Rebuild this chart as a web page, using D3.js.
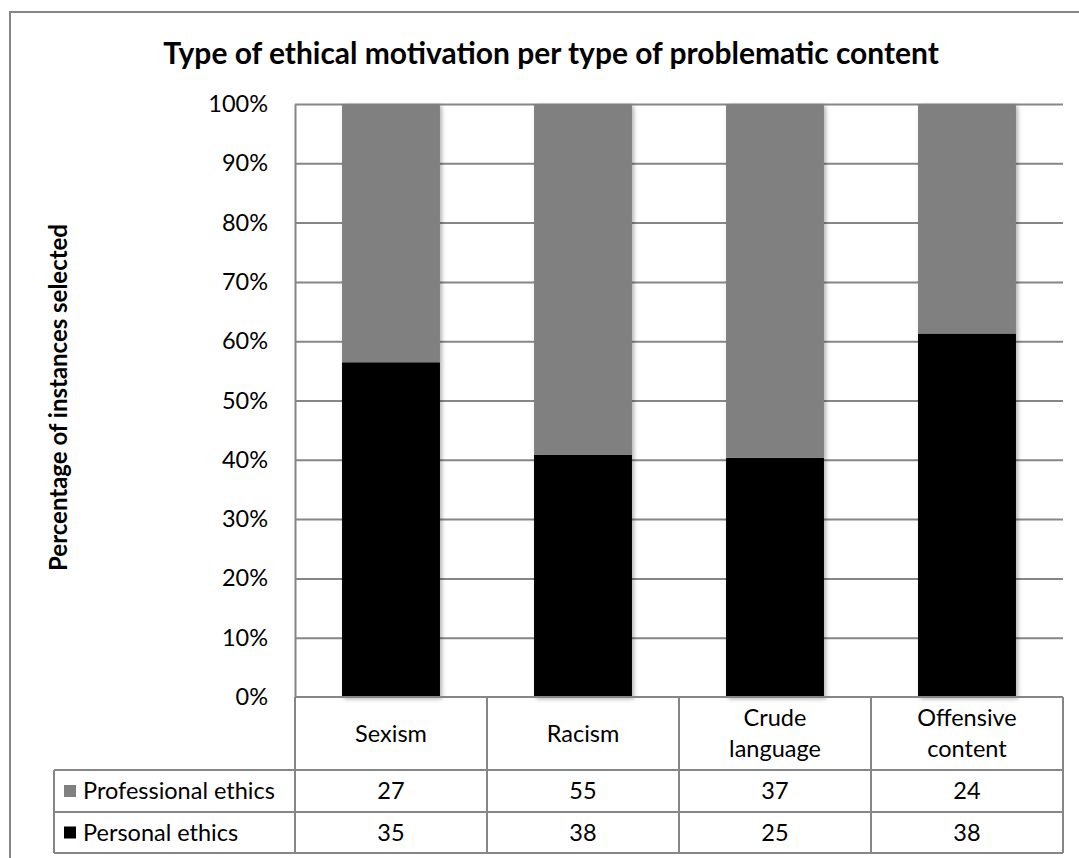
<!DOCTYPE html>
<html>
<head>
<meta charset="utf-8">
<script src="https://cdn.jsdelivr.net/npm/d3@7"></script>
<style>
  body { margin: 0; background: #fff; }
  text { fill: #000; }
</style>
</head>
<body>
<div id="chart"></div>
<script>
// data
const categories = ["Sexism", "Racism", "Crude language", "Offensive content"];
const categoryLines = [["Sexism"], ["Racism"], ["Crude", "language"], ["Offensive", "content"]];
const professional = [27, 55, 37, 24];
const personal = [35, 38, 25, 38];
const seriesNames = ["Professional ethics", "Personal ethics"];
const yTicks = [0, 0.1, 0.2, 0.3, 0.4, 0.5, 0.6, 0.7, 0.8, 0.9, 1];

const width = 1079, height = 858;
const plot = { left: 295, right: 1063, top: 104, bottom: 697 };
const gridColor = "#868686";
const font = "Lato, 'Open Sans', sans-serif";
const fontSize = 23.5;

const svg = d3.select("#chart").append("svg")
  .attr("width", width).attr("height", height)
  .attr("font-family", font);

const defs = svg.append("defs");
const shadow = defs.append("filter").attr("id", "shadow")
  .attr("x", "-10%").attr("y", "-10%").attr("width", "130%").attr("height", "130%");
shadow.append("feDropShadow").attr("dx", 2).attr("dy", 2)
  .attr("stdDeviation", 2).attr("flood-color", "#000").attr("flood-opacity", 0.3);

// chart area border
svg.append("rect")
  .attr("x", 10).attr("y", 12)
  .attr("width", width + 20).attr("height", height + 20)
  .attr("fill", "none").attr("stroke", gridColor).attr("stroke-width", 2);

// grow / shrink a text so it spans the width seen in the reference
function fitText(sel, base, target) {
  const w = sel.node().getComputedTextLength();
  sel.attr("font-size", base * target / w);
}

const title = svg.append("text")
  .attr("x", 551).attr("y", 64)
  .attr("text-anchor", "middle")
  .attr("font-weight", "bold")
  .attr("font-size", 24)
  .text("Type of ethical motivation per type of problematic content");
fitText(title, 24, 776);

const x = d3.scaleBand().domain(categories).range([plot.left, plot.right]).padding(0);
const y = d3.scaleLinear().domain([0, 1]).range([plot.bottom, plot.top]);
const barW = x.bandwidth() * 0.51;

// gridlines
svg.append("g")
  .attr("transform", `translate(${plot.left},0)`)
  .call(d3.axisLeft(y).tickValues(yTicks.slice(1)).tickSize(-(plot.right - plot.left)).tickFormat(""))
  .call(g => g.select(".domain").remove())
  .call(g => g.selectAll("line").attr("stroke", gridColor).attr("stroke-width", 2));

// y axis
svg.append("g")
  .attr("transform", `translate(${plot.left},0)`)
  .call(d3.axisLeft(y).tickValues(yTicks).tickFormat(d3.format(".0%")).tickSize(0).tickPadding(27))
  .call(g => g.attr("font-family", font).attr("font-size", fontSize))
  .call(g => g.select(".domain").attr("stroke", gridColor).attr("stroke-width", 2))
  .call(g => g.selectAll("text").attr("fill", "#000"));

// y axis title
const yTitle = svg.append("text")
  .attr("transform", `translate(67,${(plot.top + plot.bottom) / 2 - 3}) rotate(-90)`)
  .attr("text-anchor", "middle")
  .attr("font-weight", "bold")
  .attr("font-size", 18)
  .text("Percentage of instances selected");
fitText(yTitle, 18, 347);

// stacked 100% bars
const rows = categories.map((c, i) => ({ cat: c, personal: personal[i], professional: professional[i] }));
const stack = d3.stack().keys(["personal", "professional"]).offset(d3.stackOffsetExpand);
const layers = stack(rows);
const colors = { personal: "#000000", professional: "#808080" };

svg.append("g").selectAll("g")
  .data(layers)
  .join("g")
  .attr("fill", d => colors[d.key])
  .selectAll("rect")
  .data(d => d)
  .join("rect")
  .attr("filter", "url(#shadow)")
  .attr("x", d => x(d.data.cat) + (x.bandwidth() - barW) / 2)
  .attr("y", d => y(d[1]))
  .attr("width", barW)
  .attr("height", d => y(d[0]) - y(d[1]));

// data table
const rowY = [plot.bottom, 770, 812, 853];
const labelLeft = 54;
const table = svg.append("g").attr("stroke", gridColor).attr("stroke-width", 2);
categories.concat(["end"]).forEach((c, i) => {
  const xx = i < categories.length ? x(c) : plot.right;
  table.append("line").attr("x1", xx).attr("x2", xx).attr("y1", rowY[0]).attr("y2", rowY[3]);
});
table.append("line").attr("x1", labelLeft).attr("x2", labelLeft).attr("y1", rowY[1]).attr("y2", rowY[3]);
table.append("line").attr("x1", plot.left).attr("x2", plot.right).attr("y1", rowY[0]).attr("y2", rowY[0]);
[1, 2, 3].forEach(r => {
  table.append("line").attr("x1", labelLeft).attr("x2", plot.right).attr("y1", rowY[r]).attr("y2", rowY[r]);
});

// header labels
categories.forEach((c, i) => {
  const lines = categoryLines[i];
  const cx = x(c) + x.bandwidth() / 2;
  const cy = (rowY[0] + rowY[1]) / 2;
  const lh = 31;
  lines.forEach((ln, j) => {
    svg.append("text")
      .attr("x", cx)
      .attr("y", cy + (j - (lines.length - 1) / 2) * lh)
      .attr("dy", "0.35em")
      .attr("text-anchor", "middle")
      .attr("font-size", fontSize)
      .text(ln);
  });
});

// value rows
const tableSeries = [
  { name: seriesNames[0], values: professional, color: colors.professional },
  { name: seriesNames[1], values: personal, color: colors.personal }
];
tableSeries.forEach((s, r) => {
  const cy = (rowY[r + 1] + rowY[r + 2]) / 2;
  svg.append("rect")
    .attr("x", 64).attr("y", cy - 6).attr("width", 12).attr("height", 12)
    .attr("fill", s.color);
  svg.append("text")
    .attr("x", 83).attr("y", cy).attr("dy", "0.35em")
    .attr("font-size", fontSize)
    .text(s.name);
  s.values.forEach((v, i) => {
    svg.append("text")
      .attr("x", x(categories[i]) + x.bandwidth() / 2)
      .attr("y", cy).attr("dy", "0.35em")
      .attr("text-anchor", "middle")
      .attr("font-size", fontSize)
      .text(v);
  });
});
</script>
</body>
</html>
